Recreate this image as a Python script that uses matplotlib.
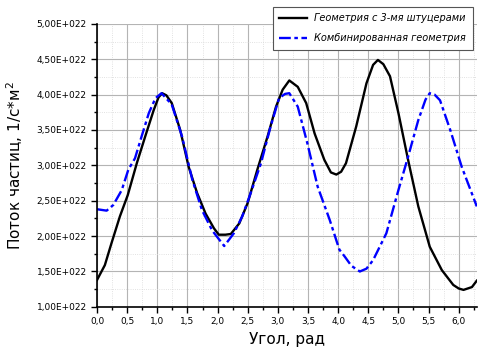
import matplotlib.pyplot as plt
from matplotlib.ticker import MultipleLocator, FuncFormatter

# Angle (rad) and particle flux (in units of 1E+022)
angle_3 = [0.0, 0.13, 0.24, 0.38, 0.51, 0.66, 0.8, 0.94, 1.02, 1.08, 1.15,
           1.24, 1.38, 1.52, 1.66, 1.8, 1.94, 2.02, 2.13, 2.22, 2.36, 2.5,
           2.66, 2.83, 2.97, 3.08, 3.19, 3.33, 3.47, 3.61, 3.77, 3.88, 3.97,
           4.05, 4.13, 4.3, 4.47, 4.58, 4.66, 4.75, 4.86, 5.0, 5.16, 5.33,
           5.52, 5.72, 5.91, 6.0, 6.08, 6.22, 6.3]
flux_3 = [1.38, 1.59, 1.90, 2.28, 2.58, 3.03, 3.41, 3.78, 3.96, 4.02, 3.99,
          3.88, 3.50, 2.98, 2.61, 2.32, 2.11, 2.02, 2.02, 2.03, 2.18, 2.47,
          2.94, 3.41, 3.83, 4.07, 4.20, 4.11, 3.88, 3.45, 3.08, 2.90, 2.87,
          2.91, 3.03, 3.55, 4.16, 4.42, 4.49, 4.43, 4.26, 3.74, 3.08, 2.42,
          1.85, 1.52, 1.31, 1.26, 1.24, 1.28, 1.37]

angle_comb = [0.0, 0.16, 0.27, 0.41, 0.52, 0.63, 0.74, 0.86, 0.97, 1.07,
              1.24, 1.41, 1.58, 1.74, 1.91, 2.11, 2.27, 2.41, 2.55, 2.72,
              2.88, 3.02, 3.12, 3.19, 3.33, 3.49, 3.66, 3.86, 4.02, 4.11,
              4.22, 4.36, 4.47, 4.58, 4.8, 5.0, 5.16, 5.33, 5.45, 5.52, 5.6,
              5.69, 5.86, 6.05, 6.3]
flux_comb = [2.38, 2.36, 2.44, 2.65, 2.94, 3.10, 3.41, 3.74, 3.95, 4.02,
             3.86, 3.41, 2.80, 2.37, 2.08, 1.86, 2.04, 2.28, 2.61, 3.03,
             3.55, 3.95, 4.01, 4.02, 3.83, 3.31, 2.70, 2.23, 1.81, 1.71,
             1.58, 1.50, 1.54, 1.66, 2.04, 2.65, 3.12, 3.64, 3.93, 4.02, 4.00,
             3.92, 3.50, 2.98, 2.42]

labels = ["Геометрия с 3-мя штуцерами", "Комбинированная геометрия"]


def sci_label(v, pos):
    return f"{v:.2f}E+022".replace(".", ",")


fig = plt.figure(figsize=(4.9, 3.56), dpi=100)
ax = fig.add_axes([0.198, 0.138, 0.775, 0.795])

l1, = ax.plot(angle_3, flux_3, color="black", lw=1.7,
              solid_joinstyle="round")
l2, = ax.plot(angle_comb, flux_comb, color="#0000ff", lw=1.7,
              linestyle=(0, (5, 1.5, 1.5, 1.5)), dash_joinstyle="round")

ax.set_xlim(0, 6.3)
ax.set_ylim(1.0, 5.0)
ax.xaxis.set_major_locator(MultipleLocator(0.5))
ax.xaxis.set_minor_locator(MultipleLocator(0.25))
ax.yaxis.set_major_locator(MultipleLocator(0.5))
ax.yaxis.set_minor_locator(MultipleLocator(0.25))
ax.xaxis.set_major_formatter(FuncFormatter(lambda v, p: f"{v:.1f}".replace(".", ",")))
ax.yaxis.set_major_formatter(FuncFormatter(sci_label))

ax.grid(True, which="major", color="#b4b4b4", lw=0.8)
ax.grid(True, which="minor", color="#d8d8d8", lw=0.6, linestyle=":")
ax.set_axisbelow(True)
for s in ["top", "right"]:
    ax.spines[s].set_visible(False)
ax.spines["left"].set_linewidth(1.2)
ax.spines["bottom"].set_linewidth(1.2)
ax.tick_params(which="both", direction="out", labelsize=6.5, width=1)
ax.tick_params(which="major", length=4)
ax.tick_params(which="minor", length=2.5)

ax.set_xlabel("Угол, рад", fontsize=11)
ax.set_ylabel("Поток частиц, 1/с*м$^2$", fontsize=11, labelpad=8)

leg = fig.legend([l1, l2], labels, loc="upper right",
                 bbox_to_anchor=(0.975, 0.995), fancybox=False,
                 framealpha=1, edgecolor="#555555", handlelength=2.8,
                 labelspacing=1.0, borderpad=0.7,
                 prop={"style": "italic", "size": 7})
leg.get_frame().set_linewidth(0.8)

fig.savefig("out.png", dpi=100)
